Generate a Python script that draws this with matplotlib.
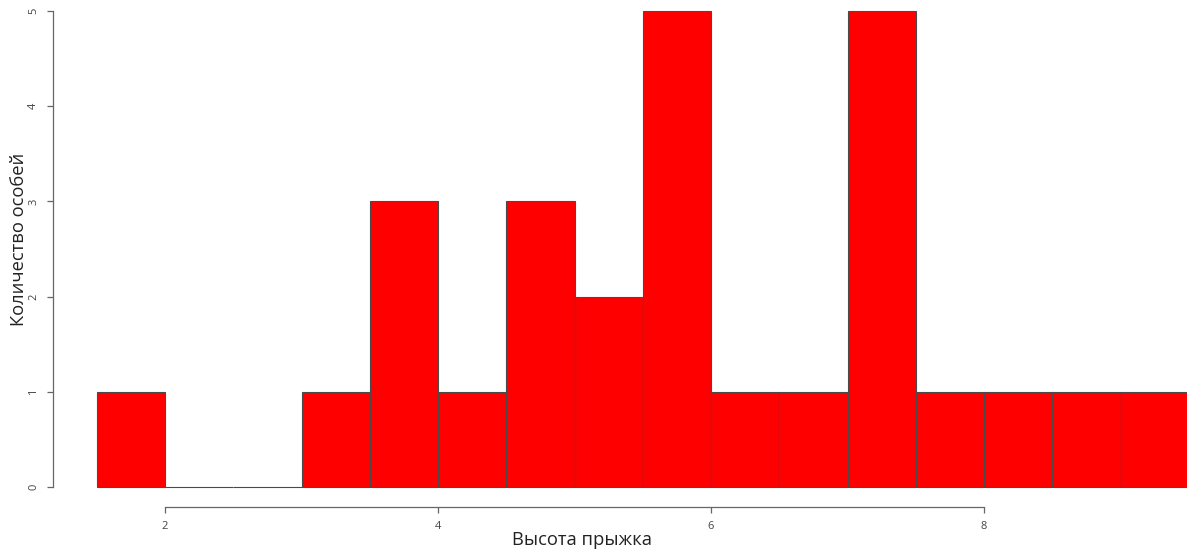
import numpy as np
import matplotlib.pyplot as plt

plt.rcParams['font.family'] = ['Open Sans', 'DejaVu Sans']

# histogram bins (width 0.5) and counts
bin_left = [1.5, 2.0, 2.5, 3.0, 3.5, 4.0, 4.5, 5.0, 5.5, 6.0, 6.5, 7.0, 7.5, 8.0, 8.5, 9.0]
counts = [1, 0, 0, 1, 3, 1, 3, 2, 5, 1, 1, 5, 1, 1, 1, 1]
bin_width = 0.5
x_ticks = [2, 4, 6, 8]
y_ticks = [0, 1, 2, 3, 4, 5]

fig = plt.figure(figsize=(11.87, 5.59), dpi=100)
ax = fig.add_axes([0, 0, 1, 1])

ax.bar(bin_left, counts, width=bin_width, align='edge', color='#ff0000',
       edgecolor='#4a4a4a', linewidth=0.8)

ax.set_xlim(0.791, 9.487)
ax.set_ylim(-0.757, 5.116)

for s in ['top', 'right']:
    ax.spines[s].set_visible(False)
ax.spines['left'].set_position(('data', 1.18))
ax.spines['left'].set_bounds(0, 5)
ax.spines['bottom'].set_position(('data', -0.21))
ax.spines['bottom'].set_bounds(2, 8)
for s in ['left', 'bottom']:
    ax.spines[s].set_color('#666666')
    ax.spines[s].set_linewidth(0.9)

ax.set_xticks(x_ticks)
ax.set_yticks(y_ticks)
ax.tick_params(axis='both', colors='#666666', length=4, width=0.9, labelsize=8)
ax.tick_params(axis='x', labelcolor='#444444', pad=6)
ax.tick_params(axis='y', labelcolor='#444444', pad=6, labelrotation=90)
for lab in ax.get_yticklabels():
    lab.set_verticalalignment('center')

fig.text(0.49, 0.018, 'Высота прыжка', fontsize=13.2, ha='center', va='bottom', color='#222222')
fig.text(0.016, 0.572, 'Количество особей', fontsize=13.2, rotation=90, ha='center', va='center', color='#222222')

fig.savefig('out.png', dpi=100)
